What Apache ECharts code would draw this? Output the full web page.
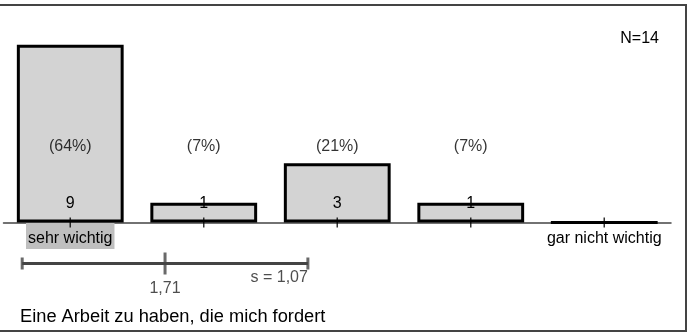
<!DOCTYPE html>
<html>
<head>
<meta charset="utf-8">
<script src="https://cdn.jsdelivr.net/npm/echarts@6/dist/echarts.min.js"></script>
<style>
html,body{margin:0;padding:0;background:#fff;}
#chart{width:696px;height:332px;}
</style>
</head>
<body>
<div id="chart"></div>
<script>
// ---- data ----
var categories = ['1', '2', '3', '4', '5'];
var scaleLabels = ['sehr wichtig', '', '', '', 'gar nicht wichtig'];
var counts = [9, 1, 3, 1, 0];
var N = 14;
var mean = 1.71;
var sd = 1.07;
var title = 'Eine Arbeit zu haben, die mich fordert';

var FONT = '"Liberation Sans", Arial, sans-serif';
var FS = 16;
function fmt(v) { return v.toFixed(2).replace('.', ','); }
var pctLabels = counts.map(function (c) { return c > 0 ? '(' + Math.round(c / N * 100) + '%)' : ''; });

var chart = echarts.init(document.getElementById('chart'), null, { renderer: 'canvas' });
chart.setOption({
  animation: false,
  backgroundColor: '#fff',
  textStyle: { fontFamily: FONT },
  title: [
    { text: title, left: 15, top: 303, textStyle: { fontFamily: FONT, fontSize: 18.25, fontWeight: 'normal', color: '#000' } },
    { text: 'N=' + N, right: 32, top: 26, textStyle: { fontFamily: FONT, fontSize: FS, fontWeight: 'normal', color: '#000' } }
  ],
  grid: [
    { left: 3.5, right: 25, top: 25, bottom: 109.5 },
    { left: 3.5, right: 25, top: 253.5, height: 20 }
  ],
  xAxis: [
    {
      gridIndex: 0, type: 'category', data: categories,
      axisLine: { lineStyle: { color: '#444', width: 1.5 } },
      axisTick: { show: false },
      axisLabel: {
        interval: 0, margin: 4.5, fontFamily: FONT, fontSize: FS, color: '#000',
        formatter: function (v, i) {
          var t = scaleLabels[i];
          if (!t) return '';
          return i === 0 ? '{hl|' + t + '}' : '{n|' + t + '}';
        },
        rich: {
          hl: { backgroundColor: '#bfbfbf', padding: [8, 2, 2, 2], lineHeight: 18, fontSize: FS, fontFamily: FONT, color: '#000' },
          n: { padding: [8, 2, 2, 2], lineHeight: 18, fontSize: FS, fontFamily: FONT, color: '#000' }
        }
      }
    },
    { gridIndex: 1, type: 'value', min: 0.5, max: 5.5, show: false }
  ],
  yAxis: [
    { gridIndex: 0, type: 'value', min: 0, max: 10, show: false },
    { gridIndex: 1, type: 'value', min: -1, max: 1, show: false }
  ],
  series: [
    {
      type: 'bar', xAxisIndex: 0, yAxisIndex: 0, data: counts,
      barCategoryGap: '20%',
      itemStyle: { color: '#d3d3d3', borderColor: '#000', borderWidth: 3 },
      label: {
        show: true, position: 'insideBottom', distance: 11,
        fontFamily: FONT, fontSize: FS, color: '#000',
        formatter: function (p) { return p.value > 0 ? String(p.value) : ''; }
      },
      z: 2
    },
    {
      type: 'scatter', xAxisIndex: 0, yAxisIndex: 0,
      data: counts.map(function () { return 0; }),
      symbol: 'rect', symbolSize: [1.5, 10],
      itemStyle: { color: '#000' },
      label: {
        show: true, position: 'top', distance: 63,
        fontFamily: FONT, fontSize: FS, color: '#000',
        formatter: function (p) { return pctLabels[p.dataIndex]; }
      },
      z: 5
    },
    {
      type: 'line', xAxisIndex: 1, yAxisIndex: 1,
      data: [[mean - sd, 0], [mean + sd, 0]],
      symbol: 'none', lineStyle: { color: '#444', width: 3 }
    },
    {
      type: 'scatter', xAxisIndex: 1, yAxisIndex: 1,
      data: [[mean - sd, 0], [mean + sd, 0]],
      symbol: 'rect', symbolSize: [3, 12],
      itemStyle: { color: '#444' },
      label: {
        show: true, position: 'bottom', distance: 0, align: 'right',
        fontFamily: FONT, fontSize: FS, color: '#222',
        formatter: function (p) { return p.dataIndex === 1 ? 's = ' + fmt(sd) : ''; }
      }
    },
    {
      type: 'scatter', xAxisIndex: 1, yAxisIndex: 1,
      data: [[mean, 0]],
      symbol: 'rect', symbolSize: [3, 22],
      itemStyle: { color: '#444' },
      label: {
        show: true, position: 'bottom', distance: 6,
        fontFamily: FONT, fontSize: FS, color: '#222',
        formatter: function () { return fmt(mean); }
      }
    }
  ],
  graphic: [
    {
      type: 'polyline',
      shape: { points: [[0, 5], [686, 5], [686, 331], [0, 331]] },
      style: { stroke: '#444', lineWidth: 2, fill: null },
      silent: true
    }
  ]
});
</script>
</body>
</html>
